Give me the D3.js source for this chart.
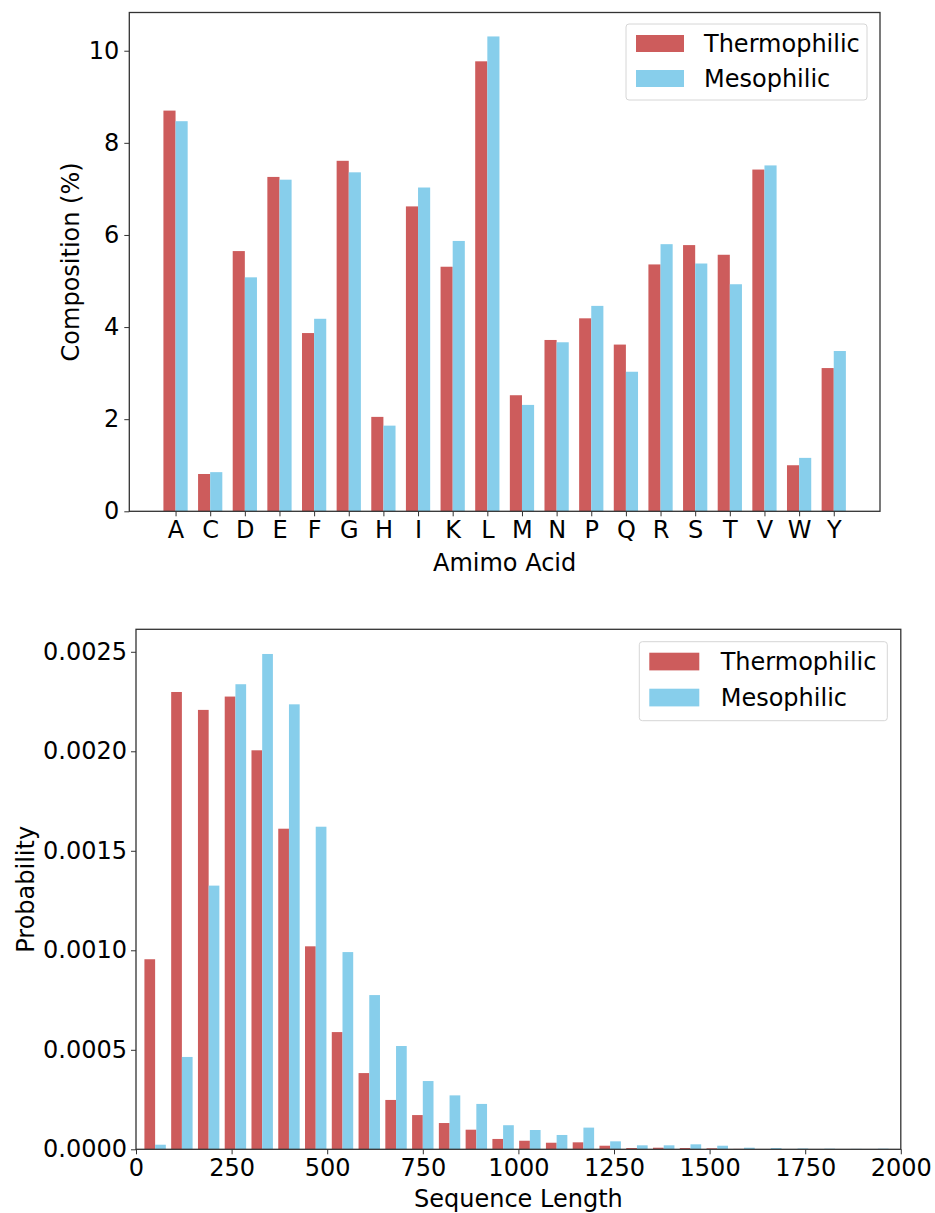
<!DOCTYPE html>
<html>
<head>
<meta charset="utf-8">
<script src="https://cdn.jsdelivr.net/npm/d3@7"></script>
<style>
  body { margin: 0; background: #fff; }
  text { font-family: "DejaVu Sans", sans-serif; fill: #000; }
  .axis path, .axis line { stroke: #333; }
</style>
</head>
<body>
<div id="chart"></div>
<script>
// ---- data: amino acid composition (%) ----
const aminoAcids = ["A","C","D","E","F","G","H","I","K","L","M","N","P","Q","R","S","T","V","W","Y"];
const thermoComp = [8.70,0.81,5.65,7.26,3.87,7.61,2.05,6.62,5.31,9.77,2.52,3.72,4.19,3.62,5.36,5.78,5.57,7.42,1.00,3.11];
const mesoComp   = [8.47,0.85,5.08,7.20,4.18,7.36,1.86,7.03,5.87,10.31,2.31,3.67,4.46,3.03,5.80,5.38,4.93,7.51,1.16,3.48];

// ---- data: sequence length histogram (density) ----
const binStarts = [15,85,155,225,295,365,435,505,575,645,715,785,855,925,995,1065,1135,1205,1275,1345,1415,1485,1555,1625,1695,1765,1835,1905];
const binWidth = 70;
const thermoProb = [0.000955,0.002298,0.002208,0.002275,0.002005,0.001611,0.001020,0.000589,0.000383,0.000248,0.000172,0.000132,0.0000985,0.000052,0.000043,0.000033,0.000035,0.000018,0.0000065,0.000008,0.0000065,0.000005,0.000002,0.000001,0.000001,0.0000005,0.000001,0.0000003];
const mesoProb   = [0.000023,0.000464,0.001325,0.002337,0.002489,0.002236,0.001621,0.000991,0.000775,0.000519,0.000343,0.000271,0.000228,0.000121,0.000097,0.000072,0.000109,0.000040,0.000020,0.000020,0.000025,0.000018,0.000008,0.000006,0.000004,0.000003,0.000002,0.000003];
const lengthTicks = [0,250,500,750,1000,1250,1500,1750,2000];
const probTicks = [0,0.0005,0.0010,0.0015,0.0020,0.0025];
const compTicks = [0,2,4,6,8,10];

const seriesNames = ["Thermophilic","Mesophilic"];
const colors = ["#cd5c5c","#87ceeb"];
const fontSize = 24;

const svg = d3.select("#chart").append("svg")
    .attr("width", 935)
    .attr("height", 1213);

// legend helper
function drawLegend(g, x, y, w, h, patchW, patchH, textX, rowGap) {
  const lg = g.append("g").attr("transform", "translate(" + x + "," + y + ")");
  lg.append("rect")
    .attr("width", w).attr("height", h)
    .attr("rx", 3)
    .attr("fill", "#fff").attr("fill-opacity", 0.8)
    .attr("stroke", "#d6d6d6");
  seriesNames.forEach(function(name, i) {
    lg.append("rect")
      .attr("x", 10).attr("y", 11 + i * rowGap)
      .attr("width", patchW).attr("height", patchH)
      .attr("fill", colors[i]);
    lg.append("text")
      .attr("x", textX).attr("y", 11 + i * rowGap + patchH / 2)
      .attr("dy", "0.36em")
      .attr("font-size", fontSize)
      .text(name);
  });
}

// ================= top chart =================
const m1 = {left:129.3, right:880, top:12.5, bottom:511.3};

const x1 = d3.scaleLinear()
    .domain([-1.335, 20.335])
    .range([m1.left, m1.right]);

const y1 = d3.scaleLinear()
    .domain([0, 10.83])
    .range([m1.bottom, m1.top]);

const barW1 = 0.35;

const chart1 = svg.append("g");

[thermoComp, mesoComp].forEach(function(vals, s) {
  chart1.append("g")
    .attr("fill", colors[s])
    .selectAll("rect")
    .data(vals)
    .enter().append("rect")
      .attr("x", function(d, i) { return x1(i - barW1 + s * barW1); })
      .attr("y", function(d) { return y1(d); })
      .attr("width", x1(barW1) - x1(0))
      .attr("height", function(d) { return y1(0) - y1(d); });
});

chart1.append("g")
  .attr("class", "axis")
  .attr("transform", "translate(0," + m1.bottom + ")")
  .call(d3.axisBottom(x1).tickValues(d3.range(aminoAcids.length)).tickFormat(function(d) { return aminoAcids[d]; }).tickSize(5).tickPadding(5))
  .call(function(g) { g.select(".domain").remove(); })
  .selectAll("text").attr("font-size", fontSize).attr("font-family", null);

chart1.append("g")
  .attr("class", "axis")
  .attr("transform", "translate(" + m1.left + ",0)")
  .call(d3.axisLeft(y1).tickValues(compTicks).tickSize(5).tickPadding(5))
  .call(function(g) { g.select(".domain").remove(); })
  .selectAll("text").attr("font-size", fontSize).attr("font-family", null);

chart1.append("rect")
  .attr("x", m1.left).attr("y", m1.top)
  .attr("width", m1.right - m1.left).attr("height", m1.bottom - m1.top)
  .attr("fill", "none").attr("stroke", "#333").attr("stroke-width", 1.3);

chart1.append("text")
  .attr("x", (m1.left + m1.right) / 2)
  .attr("y", 562)
  .attr("dy", "0.36em")
  .attr("font-size", fontSize)
  .attr("text-anchor", "middle")
  .text("Amimo Acid");

chart1.append("text")
  .attr("transform", "rotate(-90)")
  .attr("x", -(m1.top + m1.bottom) / 2)
  .attr("y", 70)
  .attr("dy", "0.36em")
  .attr("font-size", fontSize)
  .attr("text-anchor", "middle")
  .text("Composition (%)");

drawLegend(chart1, 626, 24, 241, 76, 48, 17, 78, 35);

// ================= bottom chart =================
const m2 = {left:136, right:900.8, top:629.3, bottom:1149.3};

const x2 = d3.scaleLinear()
    .domain([0, 2000])
    .range([m2.left, m2.right]);

const y2 = d3.scaleLinear()
    .domain([0, 0.002613])
    .range([m2.bottom, m2.top]);

const chart2 = svg.append("g");

chart2.append("clipPath").attr("id", "clip2")
  .append("rect")
  .attr("x", m2.left).attr("y", m2.top)
  .attr("width", m2.right - m2.left).attr("height", m2.bottom - m2.top);

const barW2 = 0.4 * binWidth;

[thermoProb, mesoProb].forEach(function(vals, s) {
  chart2.append("g")
    .attr("clip-path", "url(#clip2)")
    .attr("fill", colors[s])
    .selectAll("rect")
    .data(vals)
    .enter().append("rect")
      .attr("x", function(d, i) { return x2(binStarts[i] + 0.1 * binWidth + s * barW2); })
      .attr("y", function(d) { return y2(d); })
      .attr("width", x2(barW2) - x2(0))
      .attr("height", function(d) { return y2(0) - y2(d); });
});

chart2.append("g")
  .attr("class", "axis")
  .attr("transform", "translate(0," + m2.bottom + ")")
  .call(d3.axisBottom(x2).tickValues(lengthTicks).tickFormat(d3.format("d")).tickSize(5).tickPadding(5))
  .call(function(g) { g.select(".domain").remove(); })
  .selectAll("text").attr("font-size", fontSize).attr("font-family", null);

chart2.append("g")
  .attr("class", "axis")
  .attr("transform", "translate(" + m2.left + ",0)")
  .call(d3.axisLeft(y2).tickValues(probTicks).tickFormat(d3.format(".4f")).tickSize(5).tickPadding(4))
  .call(function(g) { g.select(".domain").remove(); })
  .selectAll("text").attr("font-size", fontSize).attr("font-family", null);

chart2.append("rect")
  .attr("x", m2.left).attr("y", m2.top)
  .attr("width", m2.right - m2.left).attr("height", m2.bottom - m2.top)
  .attr("fill", "none").attr("stroke", "#333").attr("stroke-width", 1.3);

chart2.append("text")
  .attr("x", (m2.left + m2.right) / 2)
  .attr("y", 1198)
  .attr("dy", "0.36em")
  .attr("font-size", fontSize)
  .attr("text-anchor", "middle")
  .text("Sequence Length");

chart2.append("text")
  .attr("transform", "rotate(-90)")
  .attr("x", -(m2.top + m2.bottom) / 2)
  .attr("y", 25)
  .attr("dy", "0.36em")
  .attr("font-size", fontSize)
  .attr("text-anchor", "middle")
  .text("Probability");

drawLegend(chart2, 639.3, 641.7, 248, 79, 50, 17.7, 81.4, 36);
</script>
</body>
</html>
